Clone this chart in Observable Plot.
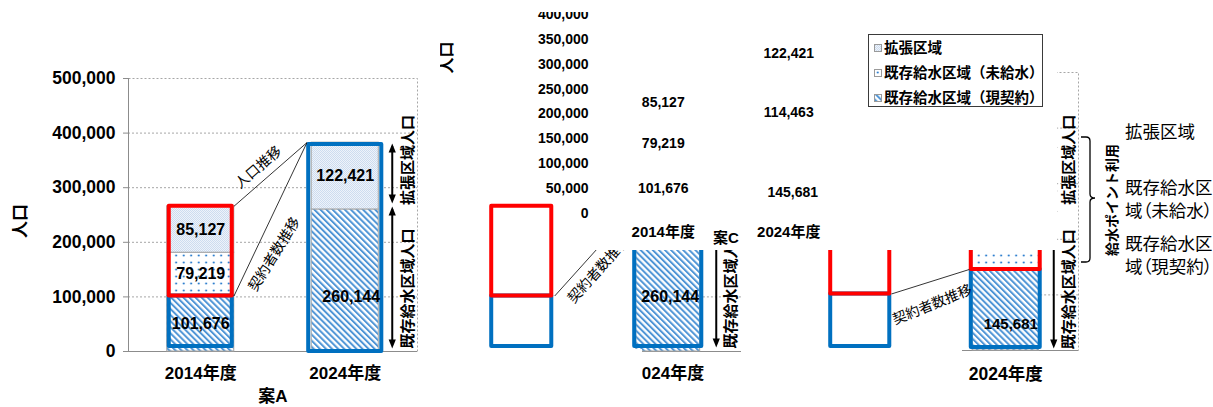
<!DOCTYPE html>
<html>
<head>
<meta charset="utf-8">
<script src="https://cdn.jsdelivr.net/npm/d3@7"></script>
<script src="https://cdn.jsdelivr.net/npm/@observablehq/plot@0.6"></script>
<style>
html, body { margin: 0; padding: 0; background: #fff; }
#root { position: relative; width: 1213px; height: 407px; overflow: hidden; font-family: "Liberation Sans", "Noto Sans CJK JP", sans-serif; }
.layer { position: absolute; left: 0; top: 0; width: 1213px; height: 407px; }
.layer svg { position: absolute; left: 0; top: 0; }
#legend { position: absolute; left: 868px; top: 34px; width: 173px; height: 71px; border: 1.5px solid #3a3a3a; background: #fff; font-weight: bold; font-size: 14.5px; }
#legend .row { position: absolute; left: 5px; height: 20px; line-height: 20px; white-space: nowrap; display: flex; align-items: center; }
#legend .row svg { margin-right: 2px; }
</style>
</head>
<body>
<svg width="0" height="0" style="position:absolute">
  <defs>
    <pattern id="pat-contract" patternUnits="userSpaceOnUse" width="4.3" height="10" patternTransform="rotate(-45)">
      <rect width="4.3" height="10" fill="#ffffff"/>
      <rect width="2" height="10" fill="#4f95d6"/>
    </pattern>
    <pattern id="pat-unserved" patternUnits="userSpaceOnUse" width="7.5" height="7">
      <rect width="7.5" height="7" fill="#ffffff"/>
      <circle cx="3.7" cy="3.5" r="1.1" fill="#2f80cf"/>
    </pattern>
    <pattern id="pat-expand" patternUnits="userSpaceOnUse" width="2" height="2">
      <rect width="2" height="2" fill="#eef3fa"/>
      <rect width="1" height="1" fill="#cddcef"/>
      <rect x="1" y="1" width="1" height="1" fill="#cddcef"/>
    </pattern>
  </defs>
</svg>
<div id="root"></div>
<script>
// ---------------- data ----------------
const years = ["2014年度", "2024年度"];
const seriesNames = ["既存給水区域（現契約）", "既存給水区域（未給水）", "拡張区域"];
const legendOrder = ["拡張区域", "既存給水区域（未給水）", "既存給水区域（現契約）"];
const caseTitles = ["案A", "案B", "案C"];

const caseA_contract = [101676, 260144];
const caseA_unserved = [79219, 0];
const caseA_expansion = [85127, 122421];

const caseB_contract = [101676, 260144];
const caseB_unserved = [79219, 0];
const caseB_expansion = [85127, 122421];

const caseC_contract = [101676, 145681];
const caseC_unserved = [79219, 114463];
const caseC_expansion = [85127, 122421];

const yTicksA = [0, 100000, 200000, 300000, 400000, 500000];
const yTicksC = [0, 50000, 100000, 150000, 200000, 250000, 300000, 350000, 400000];

const yAxisTitle = "人口";
const lineLabels = ["人口推移", "契約者数推移"];
const sideLabels = ["拡張区域人口", "既存給水区域人口"];
const braceTitle = "給水ポイント利用";
const sideNotes = [["拡張区域"], ["既存給水区", "域（未給水）"], ["既存給水区", "域（現契約）"]];

// ---------------- styles ----------------
const W = 1213, H = 407;
const FONT = '"Liberation Sans", "Noto Sans CJK JP", sans-serif';
const RED = "#ff0000", BLUE = "#0070c0", GRID = "#a6a6a6", AXIS = "#8c8c8c";
const PAT = {
  [seriesNames[0]]: "url(#pat-contract)",
  [seriesNames[1]]: "url(#pat-unserved)",
  [seriesNames[2]]: "url(#pat-expand)"
};
const fmt = d3.format(",");
const baseStyle = {fontFamily: FONT, fontWeight: "bold", fontSize: "16px", background: "none", color: "black", overflow: "visible"};

const triDown = {draw(ctx, size) { const r = Math.sqrt(size / Math.PI); ctx.moveTo(0, 0); ctx.lineTo(-r, -2.5 * r); ctx.lineTo(r, -2.5 * r); ctx.closePath(); }};
const triUp = {draw(ctx, size) { const r = Math.sqrt(size / Math.PI); ctx.moveTo(0, 0); ctx.lineTo(-r, 2.5 * r); ctx.lineTo(r, 2.5 * r); ctx.closePath(); }};

function stackRows(contract, unserved, expansion) {
  const rows = [];
  years.forEach((year, i) => {
    let base = 0;
    [[seriesNames[0], contract[i]], [seriesNames[1], unserved[i]], [seriesNames[2], expansion[i]]].forEach(([s, v]) => {
      if (v > 0) rows.push({i, year, series: s, value: v, y1: base, y2: base + v});
      base += v;
    });
  });
  return rows;
}
const mid = d => (d.y1 + d.y2) / 2;
const lab = d => fmt(d.value);
const isShifted = d => d.i === 1 && d.series === seriesNames[0];

function box(i, lo, hi, half, color, extra = {}) {
  return Plot.rect([0], {x1: () => i - half, x2: () => i + half, y1: () => lo, y2: () => hi,
    fill: "none", stroke: color, strokeWidth: 4, strokeLinejoin: "round", ...extra});
}
function arrow(i, top, bottom, dx, insetTop, insetBottom) {
  return [
    Plot.ruleX([0], {x: () => i, y1: () => top, y2: () => bottom, dx, stroke: "black", strokeWidth: 2, insetTop: insetTop + 3, insetBottom: insetBottom + 3}),
    Plot.dot([0], {x: () => i, y: () => top, dx, dy: insetTop, symbol: triUp, r: 3.6, fill: "black", stroke: "none"}),
    Plot.dot([0], {x: () => i, y: () => bottom, dx, dy: -insetBottom, symbol: triDown, r: 3.6, fill: "black", stroke: "none"})
  ];
}
function link(x1, y1, x2, y2, label, rotate, dx, dy) {
  return [
    Plot.link([0], {x1: () => x1, y1: () => y1, x2: () => x2, y2: () => y2, stroke: "black", strokeWidth: 0.8}),
    Plot.text([0], {x: () => (x1 + x2) / 2, y: () => (y1 + y2) / 2, text: () => label, rotate, dx, dy, fontSize: 14, fontWeight: "normal"})
  ];
}
function vtext(i, lo, hi, label, dx, dy) {
  return Plot.text([0], {x: () => i, y: () => (lo + hi) / 2, text: () => label, rotate: -90, dx, dy, fontSize: 15, fontWeight: "bold"});
}
function frameText(anchor, label, opts) {
  return Plot.text([0], {frameAnchor: anchor, text: () => label, textAnchor: "middle", lineAnchor: "middle", fontWeight: "bold", ...opts});
}

const root = document.getElementById("root");
function addLayer(node, clip) {
  const div = document.createElement("div");
  div.className = "layer";
  if (clip) div.style.clipPath = clip;
  div.appendChild(node);
  root.appendChild(div);
}

// ---------------- Panel A ----------------
{
  const c = caseA_contract, u = caseA_unserved, e = caseA_expansion;
  const rows = stackRows(c, u, e);
  const tot = years.map((_, i) => c[i] + u[i] + e[i]);
  const existing = c[1] + u[1];
  const BH = 0.232;
  addLayer(Plot.plot({
    width: W, height: H, marginLeft: 128, marginRight: 796, marginTop: 78, marginBottom: 56,
    x: {domain: [-0.5, 1.5]}, y: {domain: [0, 500000]}, color: {type: "identity"},
    style: baseStyle,
    marks: [
      Plot.ruleY(yTicksA.slice(1, -1), {stroke: GRID, strokeDasharray: "2,2"}),
      Plot.frame({stroke: GRID, strokeDasharray: "2,2"}),
      Plot.ruleX([-0.5], {stroke: AXIS}),
      Plot.ruleY([0], {stroke: AXIS}),
      Plot.axisY({ticks: yTicksA, tickFormat: fmt, tickSize: 5, tickPadding: 8, stroke: AXIS, fill: "black", fontSize: 17.5, fontWeight: "bold", label: null}),
      Plot.axisX({ticks: [0, 1], tickFormat: i => years[i], tickSize: 0, tickPadding: 15, fill: "black", fontSize: 17, fontWeight: "bold", label: null}),
      Plot.rect(rows, {x1: d => d.i - BH, x2: d => d.i + BH, y1: "y1", y2: "y2", fill: d => PAT[d.series], stroke: GRID, strokeWidth: 1}),
      box(0, 0, c[0], 0.218, BLUE, {insetBottom: 5}),
      box(0, c[0], tot[0], 0.218, RED),
      box(1, 0, tot[1], 0.253, BLUE, {insetTop: 2}),
      Plot.text(rows.filter(d => !isShifted(d)), {x: "i", y: mid, text: lab, fontSize: 16, fontWeight: "bold"}),
      Plot.text(rows.filter(isShifted), {x: "i", y: mid, text: lab, fontSize: 16, fontWeight: "bold", dx: 6, dy: 16}),
      link(0.23, tot[0], 1 - 0.265, tot[1], lineLabels[0], -41, -12, -7),
      link(0.23, c[0], 1 - 0.265, tot[1], lineLabels[1], -58, 4, 35),
      arrow(1, tot[1], existing, 47, 1, 6),
      arrow(1, existing, 0, 47, -3, 3),
      vtext(1, existing, tot[1], sideLabels[0], 63, -16),
      vtext(1, 0, existing, sideLabels[1], 63, 8),
      frameText("left", yAxisTitle, {rotate: -90, dx: -108, dy: 6, fontSize: 17}),
      frameText("bottom", caseTitles[0], {dy: 45, fontSize: 17})
    ].flat()
  }), "polygon(0px 0px, 440px 0px, 440px 407px, 0px 407px)");
}

// ---------------- Panel B (fragment) ----------------
{
  const c = caseB_contract, u = caseB_unserved, e = caseB_expansion;
  const rows = stackRows(c, u, e);
  const tot = years.map((_, i) => c[i] + u[i] + e[i]);
  const existing = c[1] + u[1];
  const BH = 0.218;
  addLayer(Plot.plot({
    width: W, height: H, marginLeft: 448, marginRight: 472, marginTop: 78, marginBottom: 56,
    x: {domain: [-0.5, 1.5], axis: null}, y: {domain: [0, 500000], axis: null}, color: {type: "identity"},
    style: baseStyle,
    marks: [
      Plot.ruleY(yTicksA.slice(1, -1), {x1: 1.24, x2: 1.5, stroke: GRID, strokeDasharray: "2,2"}),
      Plot.ruleY([0], {stroke: AXIS}),
      Plot.axisX({ticks: [0, 1], tickFormat: i => years[i], tickSize: 0, tickPadding: 15, fill: "black", fontSize: 17, fontWeight: "bold", label: null}),
      Plot.rect(rows.filter(d => d.i === 1), {x1: d => d.i - BH, x2: d => d.i + BH, y1: "y1", y2: "y2", fill: d => PAT[d.series], stroke: GRID, strokeWidth: 1}),
      box(0, 0, c[0], 0.205, BLUE, {insetBottom: 5}),
      box(0, c[0], tot[0], 0.205, RED),
      box(1, 0, c[1], 0.229, BLUE, {insetBottom: 5}),
      Plot.text(rows.filter(isShifted), {x: "i", y: mid, text: lab, fontSize: 16, fontWeight: "bold", dx: 2, dy: 16}),
      link(0.225, c[0], 1 - 0.243, c[1], lineLabels[1], -48, 5, 17),
      arrow(1, tot[1], existing, 48, 1, 6),
      arrow(1, existing, 0, 48, -3, 4),
      vtext(1, existing, tot[1], sideLabels[0], 62.5, -16),
      vtext(1, 0, existing, sideLabels[1], 62.5, 8)
    ].flat()
  }), "polygon(484px 198px, 558px 198px, 558px 250px, 745px 250px, 745px 400px, 642px 400px, 642px 349px, 484px 349px)");
}

// ---------------- Panel C (upper fragment: axis and labels) ----------------
{
  const rows = stackRows(caseC_contract, caseC_unserved, caseC_expansion);
  addLayer(Plot.plot({
    width: W, height: H, marginLeft: 600, marginRight: 362, marginTop: 14, marginBottom: 194,
    x: {domain: [-0.5, 1.5]}, y: {domain: [0, 400000]},
    style: {...baseStyle, fontSize: "14px"},
    marks: [
      Plot.axisY({ticks: yTicksC, tickFormat: fmt, tickSize: 0, tickPadding: 12, fill: "black", fontSize: 14, fontWeight: "bold", label: null}),
      Plot.axisX({ticks: [0, 1], tickFormat: i => years[i], tickSize: 0, tickPadding: 13, fill: "black", fontSize: 15, fontWeight: "bold", label: null}),
      Plot.text(rows.filter(d => !isShifted(d)), {x: "i", y: mid, text: lab, fontSize: 14, fontWeight: "bold"}),
      Plot.text(rows.filter(isShifted), {x: "i", y: mid, text: lab, fontSize: 14, fontWeight: "bold", dx: 4, dy: 15}),
      frameText("bottom", caseTitles[2], {dy: 25, fontSize: 15}),
      frameText("top-left", yAxisTitle, {rotate: -90, dx: -154, dy: 43, fontSize: 16})
    ]
  }), "polygon(440px 12px, 830px 12px, 830px 250px, 440px 250px)");
}

// ---------------- Panel C (lower fragment) ----------------
{
  const c = caseC_contract, u = caseC_unserved, e = caseC_expansion;
  const rows = stackRows(c, u, e);
  const tot = years.map((_, i) => c[i] + u[i] + e[i]);
  const existing = c[1] + u[1];
  const BH = 0.228;
  addLayer(Plot.plot({
    width: W, height: H, marginLeft: 787, marginRight: 135, marginTop: 72, marginBottom: 57,
    x: {domain: [-0.5, 1.5], axis: null}, y: {domain: [0, 500000], axis: null}, color: {type: "identity"},
    style: baseStyle,
    marks: [
      Plot.ruleY(yTicksA.slice(1, -1), {x1: 1.24, x2: 1.5, stroke: GRID, strokeDasharray: "2,2"}),
      Plot.frame({stroke: GRID, strokeDasharray: "2,2"}),
      Plot.ruleY([0], {stroke: AXIS}),
      Plot.axisX({ticks: [0, 1], tickFormat: i => years[i], tickSize: 0, tickPadding: 17, fill: "black", fontSize: 17.5, fontWeight: "bold", label: null}),
      Plot.rect(rows.filter(d => d.i === 1), {x1: d => d.i - BH, x2: d => d.i + BH, y1: "y1", y2: "y2", fill: d => PAT[d.series], stroke: GRID, strokeWidth: 1}),
      box(0, 0, c[0], 0.203, BLUE, {insetBottom: 4}),
      box(0, c[0], tot[0], 0.203, RED),
      box(1, 0, c[1], 0.237, BLUE, {insetBottom: 3}),
      box(1, c[1], tot[1], 0.237, RED),
      Plot.text(rows.filter(d => d.i === 1 && !isShifted(d)), {x: "i", y: mid, text: lab, fontSize: 15, fontWeight: "bold"}),
      Plot.text(rows.filter(isShifted), {x: "i", y: mid, text: lab, fontSize: 15, fontWeight: "bold", dx: 5, dy: 14}),
      link(0.215, tot[0], 1 - 0.251, tot[1], lineLabels[0], -25, -12, -7),
      link(0.215, c[0], 1 - 0.251, c[1], lineLabels[1], -22, 2, 23),
      arrow(1, tot[1], existing, 48, 1, 6),
      arrow(1, existing, 0, 48, -3, 2),
      vtext(1, existing, tot[1], sideLabels[0], 63, -12),
      vtext(1, 0, existing, sideLabels[1], 63, 11)
    ].flat()
  }), "polygon(820px 250px, 1057px 250px, 1057px 60px, 1213px 60px, 1213px 407px, 962px 407px, 962px 349px, 820px 349px)");
}

// ---------------- Legend ----------------
{
  const leg = document.createElement("div");
  leg.id = "legend";
  legendOrder.forEach((name, k) => {
    const row = document.createElement("div");
    row.className = "row";
    row.style.top = (3 + k * 25) + "px";
    row.innerHTML = `<svg width="8" height="8"><rect x="0.5" y="0.5" width="7" height="7" fill="${PAT[name]}" stroke="#9a9a9a" stroke-width="1"/></svg><span>${name}</span>`;
    leg.appendChild(row);
  });
  root.appendChild(leg);
}

// ---------------- Side annotation (brace + notes) ----------------
{
  const svg = d3.create("svg").attr("width", W).attr("height", H)
    .style("position", "absolute").style("left", 0).style("top", 0);
  svg.append("path")
    .attr("d", "M1081,137 H1086 Q1090,137 1090,141 V194 Q1090,198 1095,198 Q1090,198 1090,202 V258 Q1090,262 1086,262 H1081")
    .attr("fill", "none").attr("stroke", "black").attr("stroke-width", 1.3);
  svg.append("text")
    .attr("transform", "translate(1113,200) rotate(-90)")
    .attr("text-anchor", "middle").attr("dominant-baseline", "middle")
    .attr("font-family", FONT).attr("font-weight", "bold").attr("font-size", 14)
    .text(braceTitle);
  const starts = [133, 189, 245];
  sideNotes.forEach((lines, k) => {
    lines.forEach((line, j) => {
      svg.append("text")
        .attr("x", 1125).attr("y", starts[k] + j * 23)
        .attr("dominant-baseline", "middle")
        .attr("font-family", '"Noto Sans CJK JP", sans-serif').attr("font-size", 17.5)
        .style("font-feature-settings", '"palt"')
        .text(line);
    });
  });
  root.appendChild(svg.node());
}
</script>
</body>
</html>
